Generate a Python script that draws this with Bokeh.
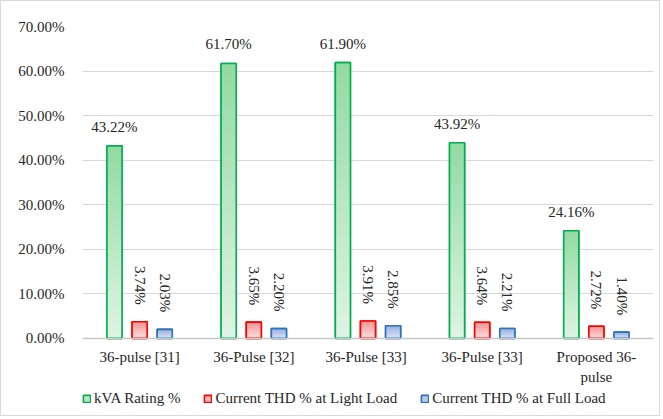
import numpy as np
from bokeh.plotting import figure
from bokeh.models import (ColumnDataSource, FactorRange, FixedTicker, PrintfTickFormatter,
                          Legend, LegendItem, Range1d)
from bokeh.transform import dodge
from bokeh.core.properties import value
from bokeh.embed import file_html
from bokeh.resources import INLINE

categories = ["36-pulse [31]", "36-Pulse [32]", "36-Pulse [33] ", "36-Pulse [33]", "Proposed 36-\npulse"]
kva_rating = [43.22, 61.70, 61.90, 43.92, 24.16]
thd_light = [3.74, 3.65, 3.91, 3.64, 2.72]
thd_full = [2.03, 2.20, 2.85, 2.21, 1.40]
series_names = ["kVA Rating %", "Current THD % at Light Load", "Current THD % at Full Load"]
y_ticks = [0, 10, 20, 30, 40, 50, 60, 70]

FONT = "Liberation Serif"
TXT = "#262626"

p = figure(x_range=FactorRange(*categories, range_padding=0), y_range=Range1d(-17.3, 70),
           width=660, height=416, output_backend="svg", toolbar_location=None,
           min_border_left=81, min_border_right=8, min_border_top=25, min_border_bottom=2)
p.styles = {"border": "1px solid #d9d9d9"}
p.outline_line_color = None
p.background_fill_color = "white"

styles = [
    dict(off=-0.22, line="#00b050", top=(146, 218, 162), bot=(224, 244, 228)),
    dict(off=0.0, line="#ff0000", top=(246, 150, 150), bot=(253, 226, 226)),
    dict(off=0.22, line="#2e75b6", top=(155, 178, 228), bot=(222, 230, 246)),
]
W = 0.132
N = 24
legend_items = []
for vals, st, name in zip([kva_rating, thd_light, thd_full], styles, series_names):
    v = np.array(vals)
    src = ColumnDataSource(dict(cat=categories, v=vals, lab=["%.2f%%" % x for x in vals]))
    mid = tuple(int((st["top"][k] + st["bot"][k]) / 2) for k in range(3))
    base = p.vbar(x=dodge("cat", st["off"], range=p.x_range), top="v", width=W, source=src,
                  fill_color="#%02x%02x%02x" % mid, line_color=st["line"], line_width=1.6)
    legend_items.append(LegendItem(label=name, renderers=[base]))
    cats, bots, tops, cols = [], [], [], []
    for i in range(N):
        f = (i + 0.5) / N
        c = tuple(int(round(st["bot"][k] + (st["top"][k] - st["bot"][k]) * f)) for k in range(3))
        col = "#%02x%02x%02x" % c
        for j, cat in enumerate(categories):
            cats.append(cat)
            bots.append(v[j] * i / N)
            tops.append(v[j] * (i + 1) / N)
            cols.append(col)
    seg = ColumnDataSource(dict(cat=cats, bottom=bots, top=tops, color=cols))
    p.vbar(x=dodge("cat", st["off"], range=p.x_range), bottom="bottom", top="top", width=W,
           source=seg, fill_color="color", line_color="color", line_width=0.5)
    p.vbar(x=dodge("cat", st["off"], range=p.x_range), top="v", width=W, source=src,
           fill_alpha=0, line_color=st["line"], line_width=1.6)
    if st["off"] < 0:
        p.text(x=dodge("cat", st["off"], range=p.x_range), y="v", text="lab", source=src,
               text_font=value(FONT), text_font_size="15px", text_color=TXT,
               text_align="center", text_baseline="middle", y_offset=-19)
    else:
        p.text(x=dodge("cat", st["off"], range=p.x_range), y="v", text="lab", source=src,
               text_font=value(FONT), text_font_size="15px", text_color=TXT,
               text_align="right", text_baseline="middle", angle=-np.pi / 2, y_offset=-17)

p.yaxis.ticker = FixedTicker(ticks=y_ticks)
p.yaxis.formatter = PrintfTickFormatter(format="%.2f%%")
p.yaxis.axis_line_color = None
p.yaxis.major_tick_line_color = None
p.yaxis.minor_tick_line_color = None
p.yaxis.major_label_standoff = 12
p.yaxis.major_label_text_font = FONT
p.yaxis.major_label_text_font_size = "15px"
p.yaxis.major_label_text_color = TXT
p.ygrid.grid_line_color = "#d9d9d9"
p.ygrid.grid_line_width = 1.2
p.xgrid.grid_line_color = None

p.xaxis.fixed_location = 0
p.xaxis.axis_line_color = "#c8c8c8"
p.xaxis.axis_line_width = 1.6
p.xaxis.major_tick_line_color = None
p.xaxis.minor_tick_line_color = None
p.xaxis.major_label_standoff = 5
p.xaxis.major_label_text_font = FONT
p.xaxis.major_label_text_font_size = "15px"
p.xaxis.major_label_text_color = TXT

legend = Legend(items=legend_items, orientation="horizontal", location=(0, 8),
                padding=0, margin=0, spacing=23, glyph_width=9, glyph_height=9,
                label_standoff=3, label_text_font=FONT, label_text_font_size="15px",
                label_text_color=TXT, background_fill_alpha=0, border_line_color=None)
p.add_layout(legend, "center")

open("out.html", "w").write(file_html(p, INLINE))
